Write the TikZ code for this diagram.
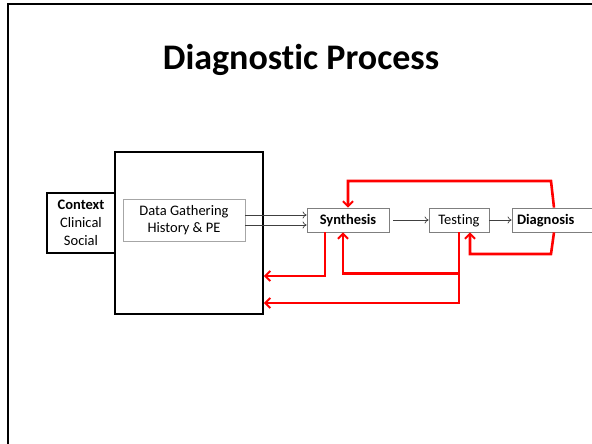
\documentclass[tikz,border=0pt]{standalone}
\usepackage{fontspec}
\setmainfont[Ligatures=NoCommon]{Carlito}
\usetikzlibrary{arrows.meta}
\definecolor{boxgray}{HTML}{7F7F7F}
\definecolor{lightgray}{HTML}{A6A6A6}
\definecolor{fbred}{HTML}{FF0000}
\tikzset{
	stepnode/.style={draw=boxgray, line width=0.8pt, minimum height=24pt, inner sep=0pt, text height=9.4pt, text depth=0pt, font=\fontsize{14.5}{17}\selectfont},
	flow/.style={draw=black!75, line width=0.7pt, -{To[length=4pt,width=7pt]}},
	fb/.style={draw=fbred, line width=2.6pt, -{Straight Barb[length=5pt,width=10pt,line width=2pt]}}
}

\begin{document}
\begin{tikzpicture}[x=1pt, y=-1pt]
		%%%%% START %%%%%
		\useasboundingbox (0,0) rectangle (592,444);
		\fill[white] (0,0) rectangle (592,444);
		\draw[line width=2.6pt] (600,4) -- (8,4) -- (8,450);
		
		\node[anchor=base] (title) at (301,70) {\fontsize{36}{42}\selectfont\bfseries Diagnostic Process};
		
		\node[draw, line width=1.8pt, minimum width=68pt, minimum height=60pt, inner sep=0pt, align=center, font=\fontsize{14.5}{18}\selectfont] (context) at (81,223) {\textbf{Context}\\Clinical\\Social};
		\node[draw, line width=1.8pt, minimum width=148pt, minimum height=162pt] (big) at (189,233) {};
		\node[draw=lightgray, line width=0.8pt, minimum width=122pt, minimum height=42pt, inner sep=0pt, align=center, font=\fontsize{14.5}{17}\selectfont] (data) at (184,220) {Data Gathering\\History \& PE};
		
		\node[stepnode, minimum width=82pt] (synth) at (348,220) {\textbf{Synthesis}};
		\node[stepnode, minimum width=60pt] (test) at (459,220) {Testing};
		\node[stepnode, minimum width=88pt, text width=78pt, align=left] (diag) at (556,220) {\textbf{Diagnosis}};
		
		\draw[flow] ([yshift=5pt]data.east) -- ([yshift=5pt]synth.west);
		\draw[flow] ([yshift=-5pt]data.east) -- ([yshift=-5pt]synth.west);
		\draw[flow, shorten <=4pt] (synth.east) -- (test.west);
		\draw[flow] (test.east) -- (diag.west);
		
		% feedback loops
		\draw[fb] ([xshift=-2pt]diag.north) -- (551,181) -| (synth.north);
		\draw[fb] ([xshift=-2pt]diag.south) -- (551,254) -| ([xshift=11pt]test.south);
		\draw[fb] (test.south) -- ++(0,41) -| ([xshift=-5pt]synth.south);
		\draw[fb] (test.south) |- ([yshift=-70pt]big.east);
		\draw[fb] ([xshift=-23pt]synth.south) |- ([yshift=-43pt]big.east);
		%%%%% END %%%%%
	\end{tikzpicture}
\end{document}
